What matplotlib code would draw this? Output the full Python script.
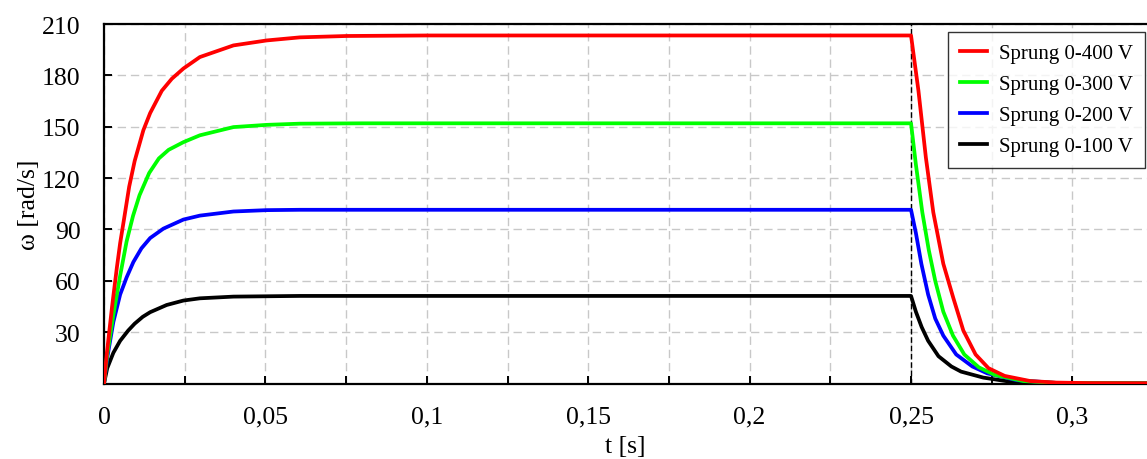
import matplotlib
matplotlib.use("Agg")
import matplotlib.pyplot as plt
from matplotlib.ticker import MultipleLocator, FuncFormatter

plt.rcParams['font.family'] = ['Liberation Serif', 'DejaVu Serif']

# Time points (s) and angular speed (rad/s)
t_400 = [0, 0.0009, 0.0025, 0.0040, 0.0050, 0.0062, 0.0078, 0.0095, 0.0122, 0.0143,
         0.0179, 0.0210, 0.0246, 0.0297, 0.0401, 0.0504, 0.0607, 0.0752, 0.1, 0.15, 0.2, 0.25,
         0.2523, 0.2546, 0.2569, 0.2600, 0.2631, 0.2662, 0.2700, 0.2740, 0.2790, 0.2869,
         0.2950, 0.3050, 0.3231]
w_400 = [0, 18, 45, 68, 82, 96, 115, 130, 148, 158,
         171, 178, 184, 190.7, 197.5, 200.4, 202.2, 203, 203.3, 203.3, 203.3, 203.3,
         171, 132, 100, 70, 50, 31, 17, 9, 4.5, 1.5,
         0.6, 0.3, 0.2]

t_300 = [0, 0.0010, 0.0029, 0.0050, 0.0070, 0.0090, 0.0110, 0.0140, 0.0170, 0.0200,
         0.0246, 0.0297, 0.0401, 0.0504, 0.0607, 0.08, 0.1, 0.15, 0.2, 0.25,
         0.2515, 0.2535, 0.2555, 0.2575, 0.2600, 0.2630, 0.2665, 0.2710, 0.2760, 0.2848,
         0.2950, 0.3231]
w_300 = [0, 17, 40, 63, 83, 98, 110, 123, 131.5, 136.5,
         141, 145, 149.8, 151.1, 151.8, 152, 152, 152, 152, 152,
         128, 100, 78, 60, 42, 28, 17, 9.5, 5, 1.5,
         0.4, 0.2]

t_200 = [0, 0.0010, 0.0029, 0.0050, 0.0070, 0.0091, 0.0116, 0.0143, 0.0184, 0.0246,
         0.0297, 0.0401, 0.0504, 0.0607, 0.1, 0.15, 0.2, 0.25,
         0.2515, 0.2532, 0.2553, 0.2575, 0.2600, 0.2640, 0.2690, 0.2736, 0.2827,
         0.2950, 0.3231]
w_200 = [0, 15, 36, 52, 62, 71, 79, 85, 90.5, 95.8,
         98.1, 100.5, 101.3, 101.5, 101.5, 101.5, 101.5, 101.5,
         88, 70, 52, 38, 28, 17, 10, 6, 2,
         0.4, 0.2]

t_100 = [0, 0.0010, 0.0029, 0.0050, 0.0075, 0.0095, 0.0120, 0.0143, 0.0194, 0.0246,
         0.0297, 0.0401, 0.0607, 0.1, 0.15, 0.2, 0.25,
         0.2515, 0.2533, 0.2553, 0.2585, 0.2625, 0.2655, 0.2724, 0.2807, 0.2950, 0.3231]
w_100 = [0, 9, 18, 25, 31, 35, 39, 41.7, 45.9, 48.5,
         49.8, 50.8, 51.2, 51.2, 51.2, 51.2, 51.2,
         42, 33, 25, 16, 10, 7, 3.5, 1.1, 0.3, 0.2]

series = [
    ("Sprung 0-400 V", t_400, w_400, "#ff0000"),
    ("Sprung 0-300 V", t_300, w_300, "#00ff00"),
    ("Sprung 0-200 V", t_200, w_200, "#0000ff"),
    ("Sprung 0-100 V", t_100, w_100, "#000000"),
]
t_switch = 0.25

fig = plt.figure(figsize=(11.47, 4.6), dpi=100)
ax = fig.add_axes([104/1147, 1 - 384.6/460, 1 - 104/1147, (384.6 - 25)/460])

ax.axvline(t_switch, color="black", lw=1.0, ls=(0, (4, 2)), zorder=1)
for label, t, w, c in reversed(series):
    ax.plot(t, w, color=c, lw=2.7, solid_joinstyle="round", solid_capstyle="round", zorder=3)
handles = []
for label, t, w, c in series:
    h, = ax.plot([], [], color=c, lw=2.7, label=label)
    handles.append(h)

ax.set_xlim(0, 0.3231)
ax.set_ylim(0, 210)
ax.xaxis.set_major_locator(MultipleLocator(0.05))
ax.xaxis.set_minor_locator(MultipleLocator(0.025))
ax.set_yticks([30, 60, 90, 120, 150, 180, 210])

def xfmt(v, pos):
    s = f"{v:.2f}".rstrip("0").rstrip(".")
    if s == "":
        s = "0"
    return s.replace(".", ",")
ax.xaxis.set_major_formatter(FuncFormatter(xfmt))

grid_ls = (0, (6, 3.5))
ax.grid(True, which="both", axis="x", color="#c8c8c8", ls=grid_ls, lw=1.0, zorder=0)
ax.grid(True, which="major", axis="y", color="#c8c8c8", ls=grid_ls, lw=1.0, zorder=0)
ax.set_axisbelow(True)

ax.tick_params(axis="both", which="both", direction="in", length=6, width=1.4,
               labelsize=18.5, color="black")
ax.tick_params(axis="y", pad=17)
ax.tick_params(axis="x", which="major", pad=16)

for s in ["left", "bottom", "top"]:
    ax.spines[s].set_linewidth(1.6)
ax.spines["right"].set_visible(False)

ax.set_xlabel("t [s]", fontsize=18.5, labelpad=5)
ax.set_ylabel("ω [rad/s]", fontsize=18.5, labelpad=1)

leg = ax.legend(handles=handles, loc="upper right", bbox_to_anchor=(0.998, 0.978),
                fontsize=15, frameon=True, fancybox=False, edgecolor="black",
                handlelength=1.3, handletextpad=0.6, borderpad=0.55, labelspacing=0.55,
                borderaxespad=0.0)
leg.get_frame().set_linewidth(1.0)

fig.savefig("out.png", dpi=100)
